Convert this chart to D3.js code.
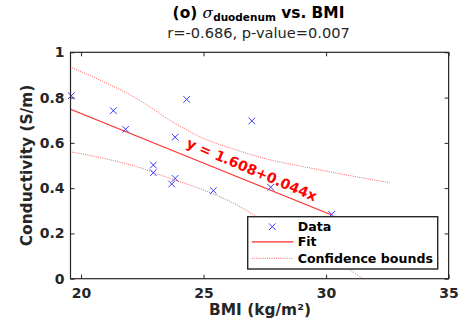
<!DOCTYPE html>
<html><head><meta charset="utf-8">
<script src="https://cdn.jsdelivr.net/npm/d3@7"></script>
<style>
html,body{margin:0;padding:0;background:#fff;}
svg{display:block;font-family:"DejaVu Sans",sans-serif;}
</style></head>
<body>
<div id="chart"></div>
<script>
// Data
const bmi  = [19.6, 21.32, 21.82, 22.95, 22.95, 23.70, 23.84, 23.84, 24.31, 25.40, 26.97, 27.74, 30.23];
const cond = [0.808, 0.742, 0.660, 0.502, 0.468, 0.418, 0.443, 0.625, 0.792, 0.389, 0.697, 0.404, 0.284];
const fitX = [19.57, 30.23];
const fitY = [0.748, 0.281];
const upperX = [19.55, 20.91, 22.27, 23.63, 24.99, 26.36, 27.71, 29.07, 30.44, 32.61];
const upperY = [0.936, 0.870, 0.796, 0.700, 0.620, 0.568, 0.525, 0.495, 0.466, 0.424];
const lowerX = [19.55, 20.91, 22.27, 23.63, 24.99, 26.36, 27.17, 30.98, 31.46, 32.61];
const lowerY = [0.561, 0.532, 0.495, 0.443, 0.392, 0.326, 0.274, 0.038, 0.003, -0.078];
const xTicks = [20, 25, 30, 35];
const yTicks = [0, 0.2, 0.4, 0.6, 0.8, 1];
const yTickLabels = ["0", "0.2", "0.4", "0.6", "0.8", "1"];
const eqText = "y = 1.608+0.044x";
const eqPos = [26.89, 0.462];
const subtitle = "r=-0.686, p-value=0.007";
const legendLabels = ["Data", "Fit", "Confidence bounds"];

const W = 461, H = 323;
const L = 70.5, R = 448.6, T = 52.3, B = 278.7;
const axisColor = "#262626";

const svg = d3.select("#chart").append("svg").attr("width", W).attr("height", H);
const x = d3.scaleLinear().domain([19.57, 35]).range([L, R]);
const y = d3.scaleLinear().domain([0, 1]).range([B, T]);

svg.append("clipPath").attr("id", "clip").append("rect")
  .attr("x", L).attr("y", T).attr("width", R - L).attr("height", B - T);

const plot = svg.append("g").attr("clip-path", "url(#clip)");
const line = d3.line().x(d => x(d[0])).y(d => y(d[1]));

// confidence bounds
[[upperX, upperY], [lowerX, lowerY]].forEach(([xs, ys]) => {
  plot.append("path").datum(xs.map((v, i) => [v, ys[i]]))
    .attr("d", d3.line().curve(d3.curveMonotoneX).x(d => x(d[0])).y(d => y(d[1])))
    .attr("fill", "none").attr("stroke", "#ff5050").attr("stroke-width", 0.9)
    .attr("stroke-dasharray", "1,1.2");
});
// fit
plot.append("path").datum(fitX.map((v, i) => [v, fitY[i]]))
  .attr("d", line).attr("fill", "none").attr("stroke", "#ff2a2a").attr("stroke-width", 1.1);

// data markers
const ms = 3.3;
const mk = svg.append("g");
bmi.forEach((b, i) => {
  const cx = x(b), cy = y(cond[i]);
  mk.append("path")
    .attr("d", `M${cx-ms},${cy-ms}L${cx+ms},${cy+ms}M${cx-ms},${cy+ms}L${cx+ms},${cy-ms}`)
    .attr("stroke", "#3a3aff").attr("stroke-width", 1).attr("fill", "none");
});

// equation
svg.append("text")
  .attr("transform", `translate(${x(eqPos[0])},${y(eqPos[1])}) rotate(23)`)
  .attr("text-anchor", "middle").attr("font-size", 14).attr("font-weight", "bold")
  .attr("fill", "#ff0000").text(eqText);

// axes box
svg.append("rect").attr("x", L).attr("y", T).attr("width", R - L).attr("height", B - T)
  .attr("fill", "none").attr("stroke", axisColor).attr("stroke-width", 1.2);

const tickLen = 4;
const gx = svg.append("g").attr("transform", `translate(0,${B})`)
  .call(d3.axisBottom(x).tickValues(xTicks).tickSize(-tickLen).tickPadding(9).tickFormat(d3.format("d")));
const gxt = svg.append("g").attr("transform", `translate(0,${T})`)
  .call(d3.axisTop(x).tickValues(xTicks).tickSize(-tickLen).tickFormat(""));
const gy = svg.append("g").attr("transform", `translate(${L},0)`)
  .call(d3.axisLeft(y).tickValues(yTicks).tickSize(-tickLen).tickPadding(6)
    .tickFormat((d, i) => yTickLabels[i]));
const gyr = svg.append("g").attr("transform", `translate(${R},0)`)
  .call(d3.axisRight(y).tickValues(yTicks).tickSize(-tickLen).tickFormat(""));
[gx, gxt, gy, gyr].forEach(g => {
  g.select(".domain").remove();
  g.selectAll("line").attr("stroke", axisColor).attr("stroke-width", 1);
  g.selectAll("text").attr("font-size", 14).attr("font-weight", "bold")
    .attr("fill", axisColor).attr("font-family", "DejaVu Sans");
});

// axis labels
svg.append("text").attr("x", 260).attr("y", 314.5).attr("text-anchor", "middle")
  .attr("font-size", 15.4).attr("font-weight", "bold").attr("fill", axisColor)
  .text("BMI (kg/m²)");
svg.append("text").attr("transform", `translate(32,${(T + B) / 2}) rotate(-90)`)
  .attr("text-anchor", "middle").attr("font-size", 15.4).attr("font-weight", "bold")
  .attr("fill", axisColor).text("Conductivity (S/m)");

// title
const title = svg.append("text").attr("x", 258.5).attr("y", 17.5).attr("text-anchor", "middle")
  .attr("font-size", 15.4).attr("font-weight", "bold").attr("fill", "#000");
title.append("tspan").text("(o) ");
title.append("tspan").attr("font-style", "italic").attr("font-weight", "normal")
  .attr("font-family", "DejaVu Serif").text("σ");
title.append("tspan").attr("font-size", 10.5).attr("dy", 3.5).text("duodenum");
title.append("tspan").attr("dy", -3.5).text(" vs. BMI");
svg.append("text").attr("x", 258.5).attr("y", 37.5).attr("text-anchor", "middle")
  .attr("font-size", 14.6).attr("fill", axisColor).text(subtitle);

// legend
const lg = svg.append("g");
lg.append("rect").attr("x", 247.7).attr("y", 216.7).attr("width", 190).attr("height", 52.3)
  .attr("fill", "#fff").attr("stroke", axisColor).attr("stroke-width", 1.4);
const rows = [226.7, 241.9, 258.3];
const lx = 272.3;
lg.append("path")
  .attr("d", `M${lx-ms},${rows[0]-ms}L${lx+ms},${rows[0]+ms}M${lx-ms},${rows[0]+ms}L${lx+ms},${rows[0]-ms}`)
  .attr("stroke", "#3a3aff").attr("stroke-width", 1);
lg.append("line").attr("x1", 251.7).attr("x2", 293.3).attr("y1", rows[1]).attr("y2", rows[1])
  .attr("stroke", "#ff2a2a").attr("stroke-width", 1.1);
lg.append("line").attr("x1", 251.7).attr("x2", 293.3).attr("y1", rows[2]).attr("y2", rows[2])
  .attr("stroke", "#ff5050").attr("stroke-width", 0.9).attr("stroke-dasharray", "1,1.2");
legendLabels.forEach((t, i) => {
  lg.append("text").attr("x", 297.7).attr("y", rows[i]).attr("dy", "0.36em")
    .attr("font-size", 12.6).attr("font-weight", "bold").attr("fill", "#000").text(t);
});
</script>
</body></html>
